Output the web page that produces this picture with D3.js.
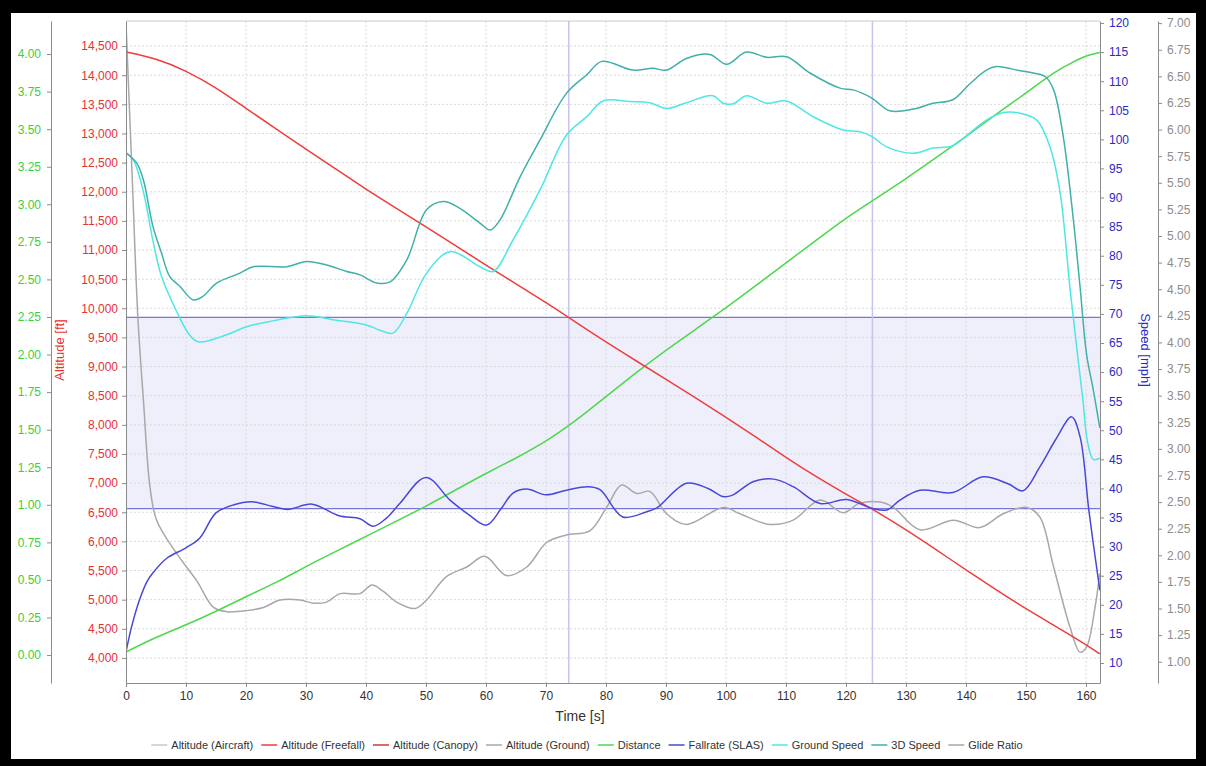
<!DOCTYPE html>
<meta charset="utf-8">
<head>
  <style>
    body { margin: 0; background: #fff; font-family: "Liberation Sans", Arial, sans-serif; }
    .grid line { stroke: #d9d9d9; stroke-dasharray: 2,2; }
    .axis path, .axis line { stroke: #8c8c8c; }
    .series { fill: none; stroke-width: 1.5; }
  </style>
  <script src="https://d3js.org/d3.v7.min.js"></script>
</head>
<body>
<div id="chart"></div>
<script>
// *** Data (time in s)
var freefallT   = [0, 5, 10, 15, 20, 25, 30, 35, 40, 45, 50, 55, 60, 65, 70, 75, 80, 85, 90, 95, 100, 105, 110, 115, 120, 125, 130, 135, 140, 145, 150, 155, 160, 162.3];
var freefallAlt = [14400, 14290, 14080, 13790, 13430, 13080, 12730, 12390, 12040, 11720, 11400, 11070, 10740, 10420, 10100, 9760, 9420, 9100, 8780, 8460, 8130, 7790, 7440, 7110, 6810, 6520, 6200, 5860, 5510, 5170, 4840, 4540, 4230, 4070];

var distanceT  = [0, 5, 10, 15, 20, 25, 30, 35, 40, 45, 50, 55, 60, 65, 70, 75, 80, 85, 90, 95, 100, 105, 110, 115, 120, 125, 130, 135, 140, 145, 150, 155, 158, 160, 162.3];
var distanceMi = [0.02, 0.12, 0.20, 0.29, 0.39, 0.48, 0.59, 0.69, 0.79, 0.89, 0.99, 1.10, 1.21, 1.31, 1.42, 1.56, 1.72, 1.88, 2.03, 2.17, 2.31, 2.46, 2.61, 2.76, 2.91, 3.04, 3.17, 3.31, 3.45, 3.60, 3.74, 3.89, 3.95, 3.99, 4.01];

var fallrateT   = [0, 1, 2.3, 3.5, 4.5, 6.8, 10, 12.3, 15, 18, 21, 24.5, 27, 31, 35.5, 39, 41.2, 43.4, 45.7, 50, 54, 57, 60.1, 62.5, 64.5, 66.8, 70, 73.4, 77, 79, 82.8, 86.8, 88.4, 93.4, 97, 99.5, 101, 104.6, 108, 111.2, 115.7, 120.1, 124.3, 126.8, 129, 132.3, 137.8, 142.8, 147, 149.5, 152.3, 155, 157.6, 159, 160.5, 162.3];
var fallrateMph = [11.9, 16.5, 21, 24, 25.5, 28, 29.8, 31.5, 35.8, 37.2, 37.7, 36.9, 36.4, 37.3, 35.3, 34.8, 33.5, 34.9, 37.5, 41.9, 38, 35.6, 33.7, 36.5, 39.2, 39.9, 38.9, 39.7, 40.3, 39.8, 35.1, 36, 36.6, 40.9, 40, 38.6, 38.8, 41.2, 41.6, 40.3, 37.4, 38.1, 36.6, 36.3, 38, 39.7, 39.3, 42, 40.8, 39.6, 43.7, 48.5, 52.3, 48.9, 36, 22.5];

var groundT   = [0, 1.2, 2.9, 4.5, 5.9, 8.4, 10.5, 12, 16.8, 20.1, 24.5, 30.1, 34.5, 40.1, 42.3, 44.5, 46.8, 50.1, 54, 59, 61.2, 64.5, 69, 73.4, 76.8, 79.5, 84, 87.3, 90.1, 93.4, 97.8, 99.5, 101.2, 103.4, 106.8, 110.1, 114.5, 119.5, 122.3, 124.3, 126.8, 131.2, 134.5, 137.8, 141.2, 143.4, 146.2, 149, 151.8, 154, 155.7, 157.3, 158.7, 159.5, 160.2, 161.2, 162.3];
var groundMph = [97.7, 96.5, 91, 82.5, 76.5, 70.5, 66.5, 65.2, 66.4, 67.8, 68.8, 69.7, 69, 68.1, 67.2, 66.7, 70.1, 77, 80.7, 78.1, 77.3, 82.7, 91.3, 100.7, 103.9, 106.6, 106.5, 106.3, 105.3, 106.3, 107.5, 106.2, 106.1, 107.5, 106.2, 106.6, 103.9, 101.6, 101.3, 100.5, 98.7, 97.6, 98.5, 98.9, 101.6, 103.3, 104.6, 104.5, 103.3, 98.7, 90.7, 74.7, 62, 55, 48.3, 45, 45.2];

var speed3dT   = [0, 1.8, 2.9, 4.5, 5.9, 7.3, 9, 11.2, 12.8, 15.1, 19, 21.2, 26.8, 30.1, 33.4, 36.8, 39, 41.8, 44, 46.8, 50.1, 52.9, 55.7, 59, 60.7, 62.3, 65.7, 69, 73.4, 76.8, 79.3, 84.5, 87.8, 90.1, 93.4, 97.3, 100.1, 103.4, 106.8, 110.1, 114, 119, 121.2, 124.3, 127.3, 131.2, 134.5, 137.8, 140.7, 143.4, 145.1, 149, 151.2, 153.2, 154.6, 156.2, 157.9, 159, 160.1, 161.2, 162.3];
var speed3dMph = [97.7, 95.9, 93, 85, 80.5, 76.4, 74.7, 72.4, 73, 75.3, 77, 78.1, 78.1, 79, 78.4, 77.3, 76.7, 75.3, 75.5, 79.3, 87.9, 89.3, 88.1, 85.6, 84.4, 86.1, 93.6, 99.9, 107.9, 111.1, 113.4, 111.9, 112.2, 111.9, 113.9, 114.6, 112.9, 115, 114.1, 114.2, 111.4, 108.8, 108.5, 107.1, 104.9, 105.2, 106.2, 106.8, 109.6, 111.9, 112.5, 111.8, 111.4, 110.8, 108.5, 100.5, 86.1, 74.7, 63, 57, 50.4];

var glideT     = [0, 1, 2, 2.9, 4, 5.1, 8.4, 11.8, 14.6, 16.8, 20.1, 22.9, 25.7, 29, 31.2, 33.4, 35.7, 39, 41, 42.9, 45.1, 48.2, 50.1, 53.4, 56.8, 59.8, 63.4, 66.8, 70.1, 73.4, 77.3, 80.1, 82.6, 85.1, 87.3, 90.1, 93.4, 99.6, 102.3, 107.3, 111.2, 115.7, 119.5, 122.3, 125.7, 127.9, 132.3, 137.9, 142.3, 146.2, 150.1, 152.3, 154.6, 157.3, 159, 160.1, 161.5, 162.3];
var glideRatio = [7.0, 5.6, 4.21, 3.46, 2.64, 2.33, 2.02, 1.76, 1.51, 1.47, 1.48, 1.51, 1.58, 1.58, 1.55, 1.56, 1.64, 1.64, 1.72, 1.66, 1.56, 1.5, 1.58, 1.8, 1.89, 1.99, 1.81, 1.89, 2.12, 2.19, 2.23, 2.45, 2.66, 2.58, 2.6, 2.39, 2.29, 2.45, 2.39, 2.29, 2.33, 2.52, 2.4, 2.49, 2.5, 2.45, 2.24, 2.33, 2.26, 2.39, 2.45, 2.36, 1.89, 1.33, 1.09, 1.14, 1.51, 1.83];

// *** Scoring window (3000 m .. 2000 m) and the times it was crossed
var windowAlt   = [6562, 9843];
var windowTimes = [73.8, 124.4];

// *** Axis ticks
var timeTicks  = d3.range(0, 161, 10);
var altTicks   = d3.range(4000, 14501, 500);
var distTicks  = d3.range(0, 4.001, 0.25);
var speedTicks = d3.range(10, 121, 5);
var glideTicks = d3.range(1, 7.001, 0.25);

var legendNames  = ["Altitude (Aircraft)", "Altitude (Freefall)", "Altitude (Canopy)", "Altitude (Ground)", "Distance", "Fallrate (SLAS)", "Ground Speed", "3D Speed", "Glide Ratio"];
var legendColors = ["#c8c8c8", "#f03c3c", "#c83c3c", "#a8a8a8", "#4cd84c", "#4848d8", "#4fe6e6", "#40b0a8", "#a8a8a8"];

// *** Set up svg
var width = 1206, height = 766;
var plotL = 126, plotR = 1100, plotT = 21, plotB = 683;

var svg = d3.select("#chart").append("svg")
  .attr("width", width)
  .attr("height", height);

// black frame round the picture
svg.append("rect").attr("width", width).attr("height", height).attr("fill", "#000");
svg.append("rect").attr("x", 11).attr("y", 13).attr("width", 1185).attr("height", 746).attr("fill", "#fff");

var x = d3.scaleLinear().domain([0, 162.33]).range([plotL, plotR]);
var yAlt = d3.scaleLinear().domain([3570, 14930]).range([plotB, plotT]);
var yDist = d3.scaleLinear().domain([-0.186, 4.22]).range([plotB, plotT]);
var ySpeed = d3.scaleLinear().domain([6.56, 120.34]).range([plotB, plotT]);
var yGlide = d3.scaleLinear().domain([0.80, 7.02]).range([plotB, plotT]);

// *** window band
svg.append("rect")
  .attr("x", plotL)
  .attr("width", plotR - plotL)
  .attr("y", yAlt(windowAlt[1]))
  .attr("height", yAlt(windowAlt[0]) - yAlt(windowAlt[1]))
  .attr("fill", "#efeffb");

// grid
var grid = svg.append("g").attr("class", "grid");
grid.selectAll(".gx").data(timeTicks.slice(1)).enter().append("line")
  .attr("x1", function(d) { return x(d); }).attr("x2", function(d) { return x(d); })
  .attr("y1", plotT).attr("y2", plotB);
grid.selectAll(".gy").data(altTicks).enter().append("line")
  .attr("x1", plotL).attr("x2", plotR)
  .attr("y1", function(d) { return yAlt(d); }).attr("y2", function(d) { return yAlt(d); });

svg.selectAll(".winline").data(windowAlt).enter().append("line")
  .attr("x1", plotL).attr("x2", plotR)
  .attr("y1", function(d) { return yAlt(d); }).attr("y2", function(d) { return yAlt(d); })
  .attr("stroke", "#7676d8").attr("stroke-width", 1.2);

svg.selectAll(".wintime").data(windowTimes).enter().append("line")
  .attr("x1", function(d) { return x(d); }).attr("x2", function(d) { return x(d); })
  .attr("y1", plotT).attr("y2", plotB)
  .attr("stroke", "#c4c4ee").attr("stroke-width", 1.5);

// top border of the plot
svg.append("line").attr("x1", plotL).attr("x2", plotR).attr("y1", plotT).attr("y2", plotT)
  .attr("stroke", "#c8c8c8");

// *** series
function zip(ts, vs) { return ts.map(function(t, i) { return [t, vs[i]]; }); }

svg.append("clipPath").attr("id", "clip").append("rect")
  .attr("x", plotL).attr("y", plotT).attr("width", plotR - plotL).attr("height", plotB - plotT);

function drawLine(data, yScale, colour, curve) {
  var line = d3.line()
    .x(function(d) { return x(d[0]); })
    .y(function(d) { return yScale(d[1]); })
    .curve(curve);
  svg.append("path")
    .datum(data)
    .attr("class", "series")
    .attr("clip-path", "url(#clip)")
    .attr("stroke", colour)
    .attr("d", line);
}

var smooth = d3.curveCatmullRom.alpha(0.5);
drawLine(zip(glideT, glideRatio), yGlide, legendColors[8], smooth);
drawLine(zip(distanceT, distanceMi), yDist, legendColors[4], d3.curveBasis);
drawLine(zip(freefallT, freefallAlt), yAlt, legendColors[1], d3.curveBasis);
drawLine(zip(groundT, groundMph), ySpeed, legendColors[6], smooth);
drawLine(zip(speed3dT, speed3dMph), ySpeed, legendColors[7], smooth);
drawLine(zip(fallrateT, fallrateMph), ySpeed, legendColors[5], smooth);

// *** axes
function styleTicks(g, colour) {
  g.selectAll("text").attr("fill", colour).style("font-size", "12px")
    .style("font-family", "'Liberation Sans', Arial, sans-serif");
}

svg.append("g").attr("class", "axis")
  .attr("transform", "translate(0," + plotB + ")")
  .call(d3.axisBottom(x).tickValues(timeTicks).tickSize(4).tickSizeOuter(0).tickPadding(4))
  .call(styleTicks, "#333");

svg.append("g").attr("class", "axis")
  .attr("transform", "translate(" + plotL + ",0)")
  .call(d3.axisLeft(yAlt).tickValues(altTicks).tickFormat(d3.format(",")).tickSize(4).tickSizeOuter(0).tickPadding(4))
  .call(styleTicks, "#e63232");

svg.append("g").attr("class", "axis")
  .attr("transform", "translate(51,0)")
  .call(d3.axisLeft(yDist).tickValues(distTicks).tickFormat(d3.format(".2f")).tickSize(4).tickSizeOuter(0).tickPadding(6))
  .call(styleTicks, "#3ccf3c");

svg.append("g").attr("class", "axis")
  .attr("transform", "translate(" + plotR + ",0)")
  .call(d3.axisRight(ySpeed).tickValues(speedTicks).tickSize(4).tickSizeOuter(0).tickPadding(5))
  .call(styleTicks, "#2a2ac8");

svg.append("g").attr("class", "axis")
  .attr("transform", "translate(1158,0)")
  .call(d3.axisRight(yGlide).tickValues(glideTicks).tickFormat(d3.format(".2f")).tickSize(4).tickSizeOuter(0).tickPadding(5))
  .call(styleTicks, "#8c8c8c");

// axis titles
svg.append("text")
  .attr("transform", "translate(64,350) rotate(-90)")
  .attr("text-anchor", "middle")
  .attr("fill", "#e63232")
  .style("font-size", "13px")
  .text("Altitude [ft]");

svg.append("text")
  .attr("transform", "translate(1141,350) rotate(90)")
  .attr("text-anchor", "middle")
  .attr("fill", "#2a2ac8")
  .style("font-size", "13px")
  .text("Speed [mph]");

svg.append("text")
  .attr("x", 580).attr("y", 721)
  .attr("text-anchor", "middle")
  .attr("fill", "#333")
  .style("font-size", "14px")
  .text("Time [s]");

// *** legend
var legend = svg.append("g");
var lx = 0;
legendNames.forEach(function(name, i) {
  var item = legend.append("g").attr("transform", "translate(" + lx + ",0)");
  item.append("line").attr("x1", 0).attr("x2", 16).attr("y1", 0).attr("y2", 0)
    .attr("stroke", legendColors[i]).attr("stroke-width", 1.5);
  var t = item.append("text").attr("x", 20).attr("y", 4)
    .attr("fill", "#333").style("font-size", "11px").text(name);
  lx += 20 + t.node().getComputedTextLength() + 8;
});
legend.attr("transform", "translate(" + (587 - (lx - 8) / 2) + ",745)");
</script>
</body>
